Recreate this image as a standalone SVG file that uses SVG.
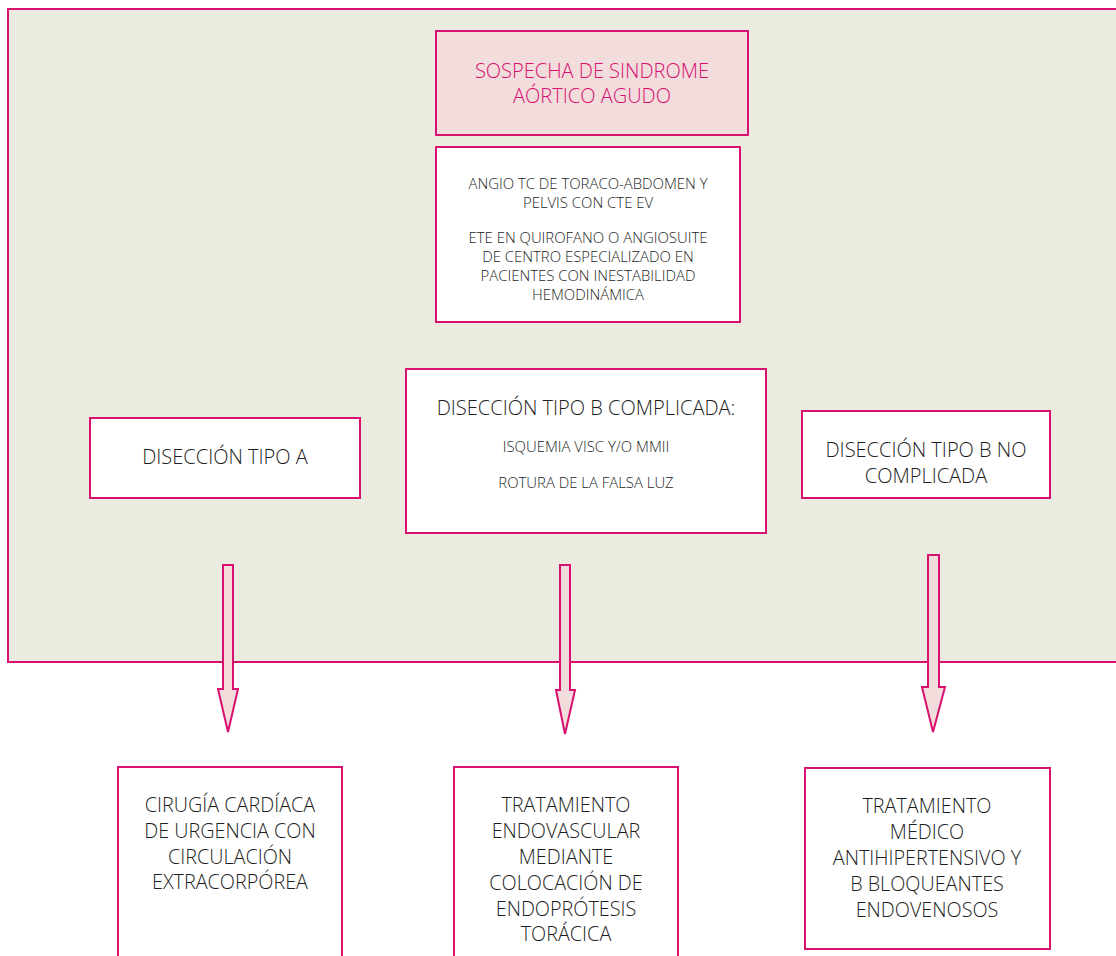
<svg xmlns="http://www.w3.org/2000/svg" width="1116" height="956" viewBox="0 0 1116 956">
<defs>
<style>
.box{fill:#ffffff;stroke:#D8106F;stroke-width:2}
.pink{fill:#F2DCDC;stroke:#D8106F;stroke-width:2}
.arrow{fill:#F2DCDC;stroke:#D8106F;stroke-width:2;stroke-linejoin:miter}
text{font-family:"Open Sans","Liberation Sans",sans-serif;fill:#1e1e1e;text-anchor:middle;font-weight:300}
.t1{font-size:20px;fill:#D8106F}
.sm{font-size:14.9px}
.md{font-size:20px}
.lg{font-size:19.8px}
</style>
</defs>
<rect x="0" y="0" width="1116" height="956" fill="#ffffff"/>
<rect id="panel" x="8" y="9" width="1120" height="653" fill="#ECEBE0" stroke="#D8106F" stroke-width="2"/>

<g id="n-sospecha">
<rect class="pink" x="436" y="31" width="312" height="104"/>
<text class="t1" x="592" y="78">SOSPECHA DE SINDROME</text>
<text class="t1" x="592" y="103">AÓRTICO AGUDO</text>
</g>

<g id="n-angio">
<rect class="box" x="436" y="147" width="304" height="175"/>
<text class="sm" x="588" y="189">ANGIO TC DE TORACO-ABDOMEN Y</text>
<text class="sm" x="588" y="208">PELVIS CON CTE EV</text>
<text class="sm" x="588" y="243">ETE EN QUIROFANO O ANGIOSUITE</text>
<text class="sm" x="588" y="262">DE CENTRO ESPECIALIZADO EN</text>
<text class="sm" x="588" y="281">PACIENTES CON INESTABILIDAD</text>
<text class="sm" x="588" y="300">HEMODINÁMICA</text>
</g>

<g id="n-tipoA">
<rect class="box" x="90" y="418" width="270" height="80"/>
<text class="md" x="225" y="464">DISECCIÓN TIPO A</text>
</g>

<g id="n-tipoB-comp">
<rect class="box" x="406" y="369" width="360" height="164"/>
<text class="md" x="586" y="415">DISECCIÓN TIPO B COMPLICADA:</text>
<text class="sm" x="586" y="452">ISQUEMIA VISC Y/O MMII</text>
<text class="sm" x="586" y="488">ROTURA DE LA FALSA LUZ</text>
</g>

<g id="n-tipoB-nocomp">
<rect class="box" x="802" y="411" width="248" height="87"/>
<text class="md" x="926" y="457">DISECCIÓN TIPO B NO</text>
<text class="md" x="926" y="483">COMPLICADA</text>
</g>

<g id="connectors">
<polygon class="arrow" points="223,565 233,565 233,689 238,689 228,732 218,689 223,689"/>
<polygon class="arrow" points="560,565 570,565 570,690 575,690 565,734 556,690 560,690"/>
<polygon class="arrow" points="928,555 939,555 939,687 945,687 933,732 922,687 928,687"/>
</g>

<g id="n-cirugia">
<rect class="box" x="118" y="767" width="224" height="200"/>
<text class="lg" x="230" y="812">CIRUGÍA CARDÍACA</text>
<text class="lg" x="230" y="838">DE URGENCIA CON</text>
<text class="lg" x="230" y="864">CIRCULACIÓN</text>
<text class="lg" x="230" y="889">EXTRACORPÓREA</text>
</g>

<g id="n-endovascular">
<rect class="box" x="454" y="767" width="224" height="200"/>
<text class="lg" x="566" y="812">TRATAMIENTO</text>
<text class="lg" x="566" y="838">ENDOVASCULAR</text>
<text class="lg" x="566" y="864">MEDIANTE</text>
<text class="lg" x="566" y="890">COLOCACIÓN DE</text>
<text class="lg" x="566" y="916">ENDOPRÓTESIS</text>
<text class="lg" x="566" y="941">TORÁCICA</text>
</g>

<g id="n-medico">
<rect class="box" x="805" y="768" width="245" height="181"/>
<text class="lg" x="927" y="813">TRATAMIENTO</text>
<text class="lg" x="927" y="839">MÉDICO</text>
<text class="lg" x="927" y="865">ANTIHIPERTENSIVO Y</text>
<text class="lg" x="927" y="891">B BLOQUEANTES</text>
<text class="lg" x="927" y="917">ENDOVENOSOS</text>
</g>
</svg>
